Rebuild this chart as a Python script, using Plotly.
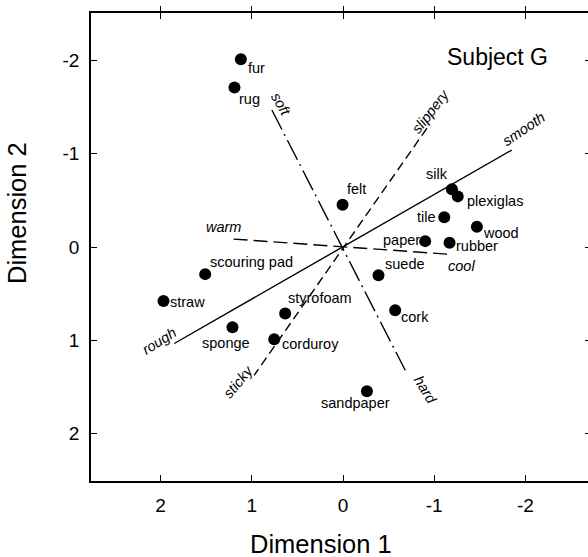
import plotly.graph_objects as go

# ---- data ----
names = ["fur", "rug", "felt", "silk", "plexiglas", "tile", "wood", "paper", "rubber",
         "suede", "cork", "sandpaper", "scouring pad", "straw", "sponge", "styrofoam", "corduroy"]
dim1 = [1.12, 1.19, 0.005, -1.194, -1.258, -1.11, -1.468, -0.901, -1.168,
        -0.389, -0.572, -0.262, 1.511, 1.968, 1.212, 0.634, 0.754]
dim2 = [-2.015, -1.71, -0.453, -0.619, -0.543, -0.318, -0.217, -0.063, -0.045,
        0.302, 0.678, 1.548, 0.291, 0.578, 0.86, 0.713, 0.989]

# property vectors: (label at end A, end A), (label at end B, end B)
vec_names = [("smooth", "rough"), ("slippery", "sticky"), ("soft", "hard"), ("warm", "cool")]
vec_a = [(-1.85, -1.04), (-0.92, -1.274), (0.78, -1.47), (1.20, -0.085)]
vec_b = [(1.85, 1.035), (0.974, 1.376), (-0.682, 1.322), (-1.194, 0.08)]

xticks = [2, 1, 0, -1, -2]
yticks = [-2, -1, 0, 1, 2]

# ---- styles ----
FONT = "Liberation Sans, Arial, sans-serif"
vec_dash = ["solid", "9px,5px", "22px,5px,2px,5px", "14px,6px"]
# label offsets (px) and angles for vector ends
vec_a_lab = [(12, 21, -34), (4, 17, -52), (9, 6, 60), (-10, 12, 0)]
vec_b_lab = [(-15, 2, -32), (-16, -7, -50), (20, -20, 58), (10, -12, 0)]
# point label offsets (px)
pt_off = [(16, -9), (15, -11), (14, 16), (-15, 15), (37, -5), (-18, 0), (24, -6), (-24, 1),
          (27, -3), (27, 11), (20, -7), (-11, -12), (46, 12), (24, -1), (-6, -16), (35, 15), (36, -5)]

XR = [2.763, -2.686]
YR = [2.51, -2.51]

fig = go.Figure()

for (na, nb), a, b, d in zip(vec_names, vec_a, vec_b, vec_dash):
    fig.add_trace(go.Scatter(x=[a[0], b[0]], y=[a[1], b[1]], mode="lines",
                             line=dict(color="black", width=1.4, dash=d),
                             hoverinfo="skip", showlegend=False))

fig.add_trace(go.Scatter(x=dim1, y=dim2, mode="markers", text=names,
                         marker=dict(color="black", size=12),
                         showlegend=False))

# placeholder trace so the overlaid top/right tick axes are drawn
fig.add_trace(go.Scatter(x=[None], y=[None], xaxis="x2", yaxis="y2", mode="markers",
                         hoverinfo="skip", showlegend=False))

annots = []
for n, x, y, (dx, dy) in zip(names, dim1, dim2, pt_off):
    annots.append(dict(x=x, y=y, text=n, showarrow=False, xshift=dx, yshift=dy,
                       xanchor="center", yanchor="middle",
                       font=dict(family=FONT, size=14.5, color="black")))
for (na, nb), a, b, la, lb in zip(vec_names, vec_a, vec_b, vec_a_lab, vec_b_lab):
    for n, p, l in ((na, a, la), (nb, b, lb)):
        annots.append(dict(x=p[0], y=p[1], text="<i>%s</i>" % n, showarrow=False,
                           xshift=l[0], yshift=l[1], textangle=l[2],
                           xanchor="center", yanchor="middle",
                           font=dict(family=FONT, size=14.5, color="black")))

annots.append(dict(x=-1.69, y=-2.043, text="Subject G", showarrow=False,
                   xanchor="center", yanchor="middle",
                   font=dict(family=FONT, size=23, color="black")))
annots.append(dict(xref="paper", yref="paper", x=0.4628, y=-0.1346, text="Dimension 1",
                   showarrow=False, xanchor="center", yanchor="middle",
                   font=dict(family=FONT, size=25.5, color="black")))
annots.append(dict(xref="paper", yref="paper", x=-0.1489, y=0.5726, text="Dimension 2",
                   showarrow=False, xanchor="center", yanchor="middle", textangle=-90,
                   font=dict(family=FONT, size=25.5, color="black")))

axis_common = dict(showgrid=False, zeroline=False, linecolor="black", linewidth=1.5,
                   tickcolor="black", tickwidth=1.3,
                   tickfont=dict(family=FONT, size=19, color="black"))

fig.update_layout(
    width=588, height=557,
    margin=dict(l=91, r=0, t=13, b=76),
    paper_bgcolor="white", plot_bgcolor="white",
    font=dict(family=FONT, color="black"),
    annotations=annots,
    xaxis=dict(range=XR, tickvals=xticks, ticktext=[str(v) for v in xticks],
               showline=True, mirror="ticks", ticks="inside", ticklen=6,
               ticklabelstandoff=6, **axis_common),
    yaxis=dict(range=YR, tickvals=yticks, ticktext=[str(v) for v in yticks],
               showline=True, mirror=False, ticks="inside", ticklen=6,
               ticklabelstandoff=6, **axis_common),
    xaxis2=dict(range=XR, overlaying="x", side="top", tickvals=xticks,
                showticklabels=False, showline=False, ticks="outside", ticklen=6,
                showgrid=False, zeroline=False, tickcolor="black", tickwidth=1.3),
    yaxis2=dict(range=YR, overlaying="y", side="right", tickvals=yticks,
                showticklabels=False, showline=False, ticks="inside", ticklen=3,
                showgrid=False, zeroline=False, tickcolor="black", tickwidth=1.3),
)

fig.write_html("out.html")
